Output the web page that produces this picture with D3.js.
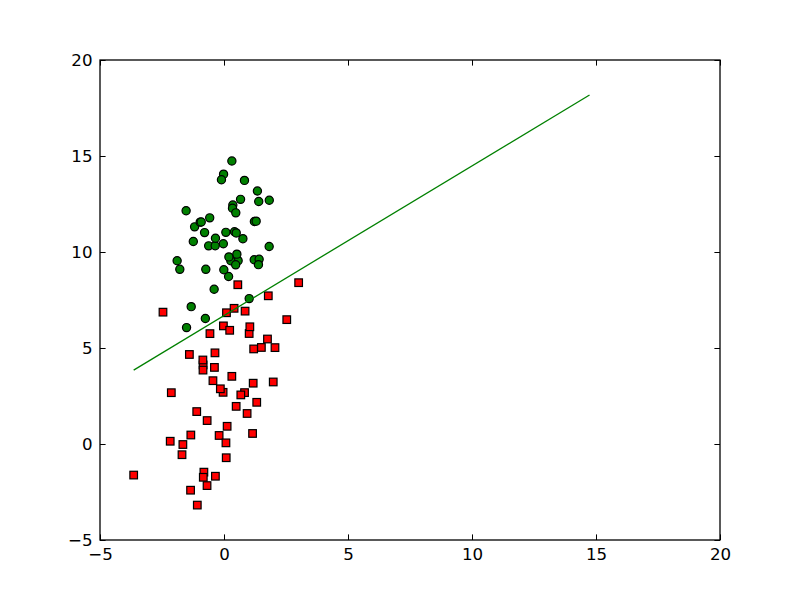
<!DOCTYPE html>
<html>
<head>
<meta charset="utf-8">
<script src="https://cdn.jsdelivr.net/npm/d3@7"></script>
<style>
html,body{margin:0;padding:0;background:#fff;}
svg{display:block;}
text{font-family:"DejaVu Sans",sans-serif;}
</style>
</head>
<body>
<svg id="chart" width="800" height="600"></svg>
<script>
// Class 1 (red squares)
const redX = [-1.395634,0.406704,-2.460150,0.850433,1.176813,-0.566606,0.931635,-0.024205,-0.036453,-0.196949,1.014459,1.985298,-1.693453,-0.346811,-2.124484,-3.642001,0.315985,-0.386323,0.556921,-1.347803,1.196604,-0.445678,1.042222,1.152083,0.828534,-0.683565,0.229456,1.507278,0.099671,1.785928,-0.364009,-0.841722,0.490426,-0.810823,2.530777,-1.337472,-0.147324,-1.658086,1.319944,2.056216,-0.851633,-1.076637,3.010150,-1.099458,-0.834872,-0.846637,1.752842,0.078557,0.089392,0.126117,-0.679797,0.677983,-2.168791];
const redY = [4.662541,7.067335,6.866805,6.920334,3.167020,5.749003,1.589505,6.151823,2.690988,0.444165,5.754399,3.230619,-0.557540,-1.678730,2.672471,-1.618087,3.523953,3.989286,8.294984,-2.406051,4.951851,3.297303,6.105155,0.548467,2.676045,-2.166125,5.921938,5.027866,6.835839,7.718645,4.747300,4.119083,1.960539,-1.466018,6.476801,0.468339,2.874846,-0.027255,2.171228,5.019981,4.375691,-3.181888,8.401766,1.688274,-1.733869,3.849075,5.468166,0.059736,-0.715300,0.922311,1.220530,2.556666,0.143632];
// Class 0 (green circles)
const greenX = [-0.017612,-0.752157,-1.322371,0.423363,0.667394,0.569411,-0.026632,1.347183,-1.781871,-0.576525,1.217916,-0.733928,1.416614,1.224863,0.275221,0.470575,-1.889567,-1.527893,-1.185247,-0.618787,-1.237728,-0.959885,0.492911,0.184992,-0.355715,-0.397822,0.824839,-0.344008,-0.918801,-0.007194,0.356107,0.342578,1.296683,0.475487,-0.783277,0.074798,-0.102781,0.518389,1.015399,-1.510047,1.821096,1.400102,1.825662,0.197445,0.761349,1.388610,0.317029];
const greenY = [14.053064,6.538620,7.152853,11.054677,12.741452,9.548755,10.427743,13.175500,9.097953,11.778922,9.597015,9.098687,9.619232,11.587360,9.543647,9.332488,9.542662,12.150579,11.309318,10.320986,10.549033,11.555336,10.993324,8.721488,10.325976,8.058397,13.730343,10.717485,11.560217,9.075792,12.447863,12.281162,11.607559,12.040035,11.009725,11.023650,13.763651,9.887035,7.571882,6.061992,10.283990,12.628781,12.693808,9.744638,10.693862,9.341997,14.739025];
// Decision boundary line
const lineX = [-3.642, 14.739];
const lineY = [3.85, 18.18];
// Axis ticks
const xTicks = [-5, 0, 5, 10, 15, 20];
const yTicks = [-5, 0, 5, 10, 15, 20];

const svg = d3.select("#chart");
svg.append("rect").attr("width",800).attr("height",600).attr("fill","#fff");

const L = 100, R = 720, T = 60, B = 540;
const x = d3.scaleLinear().domain([-5, 20]).range([L, R]);
const y = d3.scaleLinear().domain([-5, 20]).range([B, T]);

const plot = svg.append("g");
plot.append("defs").append("clipPath").attr("id","clip")
  .append("rect").attr("x",L).attr("y",T).attr("width",R-L).attr("height",B-T);
const g = plot.append("g").attr("clip-path","url(#clip)");

const s = 7.6;
g.selectAll("rect.red").data(redX.map((d,i)=>[d, redY[i]])).enter()
  .append("rect").attr("class","red")
  .attr("x", d => x(d[0]) - s/2).attr("y", d => y(d[1]) - s/2)
  .attr("width", s).attr("height", s)
  .attr("fill", "#ff0000").attr("stroke", "#000").attr("stroke-width", 1.2);

g.selectAll("circle.green").data(greenX.map((d,i)=>[d, greenY[i]])).enter()
  .append("circle").attr("class","green")
  .attr("cx", d => x(d[0])).attr("cy", d => y(d[1])).attr("r", 4.1)
  .attr("fill", "#008000").attr("stroke", "#000").attr("stroke-width", 1.2);

g.append("path")
  .datum(lineX.map((d,i)=>[d, lineY[i]]))
  .attr("d", d3.line().x(d => x(d[0])).y(d => y(d[1])))
  .attr("fill","none").attr("stroke","#008000").attr("stroke-width",1.3);

// Axes (classic matplotlib style: inward ticks on all four sides)
const tickLen = 5.6, pad = 7.5;
const fs = "16.67px";
const ax = svg.append("g");

const axBottom = ax.append("g").attr("transform",`translate(0,${B})`)
  .call(d3.axisBottom(x).tickValues(xTicks).tickSizeInner(-tickLen).tickSizeOuter(0).tickPadding(pad));
const axTop = ax.append("g").attr("transform",`translate(0,${T})`)
  .call(d3.axisTop(x).tickValues(xTicks).tickSizeInner(-tickLen).tickSizeOuter(0).tickFormat(""));
const axLeft = ax.append("g").attr("transform",`translate(${L},0)`)
  .call(d3.axisLeft(y).tickValues(yTicks).tickSizeInner(-tickLen).tickSizeOuter(0).tickPadding(pad));
const axRight = ax.append("g").attr("transform",`translate(${R},0)`)
  .call(d3.axisRight(y).tickValues(yTicks).tickSizeInner(-tickLen).tickSizeOuter(0).tickFormat(""));

[axBottom, axTop, axLeft, axRight].forEach(a => {
  a.select(".domain").remove();
  a.selectAll("line").attr("stroke","#000").attr("stroke-width",1);
  a.selectAll("text").attr("fill","#000").style("font-size",fs).style("font-family","DejaVu Sans");
});
axBottom.selectAll("text").attr("dy","0.75em");
axLeft.selectAll("text").attr("dy","0.32em");

ax.append("rect").attr("x",L).attr("y",T).attr("width",R-L).attr("height",B-T)
  .attr("fill","none").attr("stroke","#000").attr("stroke-width",1.3);
</script>
</body>
</html>
